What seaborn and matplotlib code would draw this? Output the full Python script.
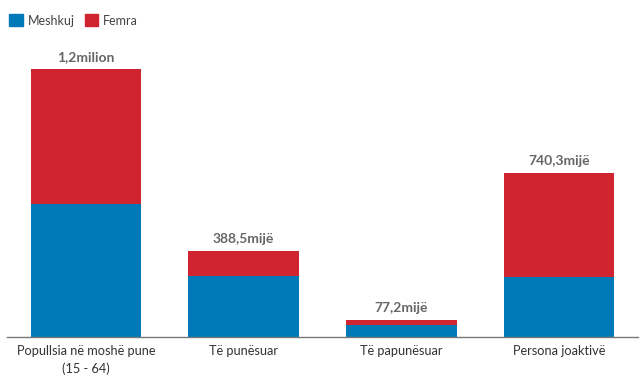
import matplotlib
matplotlib.use("Agg")
import matplotlib.pyplot as plt
import matplotlib.patches as mpatches
import seaborn as sns
import pandas as pd

categories = ["Popullsia në moshë pune\n(15 - 64)", "Të punësuar", "Të papunësuar", "Persona joaktivë"]
meshkuj = [602, 276, 52.5, 270]
femra = [608, 112.5, 24.7, 470.3]
value_labels = ["1,2milion", "388,5mijë", "77,2mijë", "740,3mijë"]

BLUE = "#0079b8"
RED = "#d12431"

sns.set_theme(style="white")
plt.rcParams["font.family"] = ["Lato", "DejaVu Sans"]

totals = [m + f for m, f in zip(meshkuj, femra)]
df = pd.DataFrame({"cat": categories, "Meshkuj": meshkuj, "total": totals})

fig = plt.figure(figsize=(6.4, 3.8), dpi=100)
ax = fig.add_axes([7 / 640, 43 / 380, 631 / 640, 288 / 380])

sns.barplot(data=df, x="cat", y="total", color=RED, width=0.70, saturation=1,
            linewidth=0, ax=ax)
sns.barplot(data=df, x="cat", y="Meshkuj", color=BLUE, width=0.70, saturation=1,
            linewidth=0, ax=ax)

ax.set_ylim(0, 1300)
ax.set_xlim(-0.5, len(categories) - 0.5)
ax.set_xlabel("")
ax.set_ylabel("")
ax.set_yticks([])
for s in ["top", "right", "left"]:
    ax.spines[s].set_visible(False)
ax.spines["bottom"].set_color("#777777")
ax.spines["bottom"].set_linewidth(1.0)
ax.tick_params(axis="x", length=0, pad=6, labelsize=9.2, labelcolor="#333333")
for t in ax.get_xticklabels():
    t.set_linespacing(1.45)

for i, (t, lab) in enumerate(zip(totals, value_labels)):
    ax.annotate(lab, (i, t), xytext=(0, 4), textcoords="offset points",
                ha="center", va="bottom", fontsize=10, fontweight="bold", color="#666666")

handles = [mpatches.Patch(color=BLUE, label="Meshkuj"), mpatches.Patch(color=RED, label="Femra")]
fig.legend(handles=handles, loc="upper left", bbox_to_anchor=(0.0, 0.985), ncol=2, frameon=False,
           fontsize=9, handlelength=1.1, handleheight=1.1, handletextpad=0.4, columnspacing=0.8,
           borderaxespad=0.3, labelcolor="#444444")

fig.savefig("out.png", dpi=100, facecolor="white")
